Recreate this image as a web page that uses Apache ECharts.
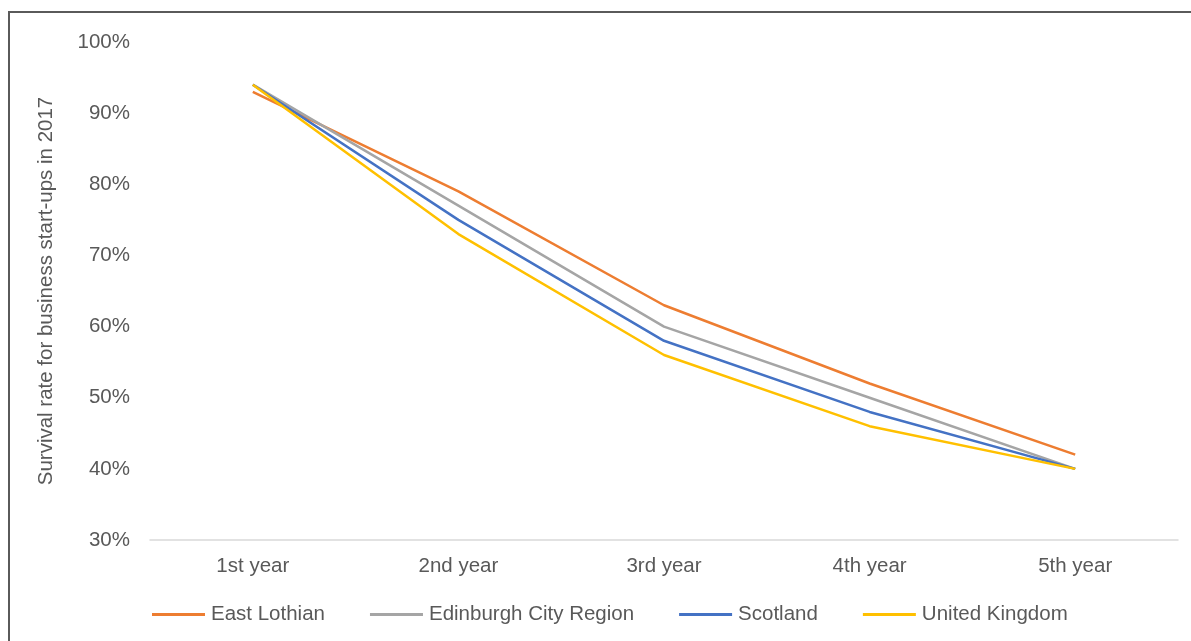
<!DOCTYPE html>
<html>
<head>
<meta charset="utf-8">
<script src="https://cdn.jsdelivr.net/npm/echarts@6/dist/echarts.min.js"></script>
<style>
  html, body { margin: 0; padding: 0; background: #fff; overflow: hidden; }
  #frame { position: absolute; left: 8px; top: 11px; width: 1300px; height: 800px;
           border-left: 2px solid #5a5a5a; border-top: 2px solid #5a5a5a; }
  #chart { position: absolute; left: 0; top: 0; width: 1191px; height: 641px; }
</style>
</head>
<body>
<div id="frame"></div>
<div id="chart"></div>
<script>
// Survival rate of 2017 business start-ups, by year after start-up
const categories = ['1st year', '2nd year', '3rd year', '4th year', '5th year'];
const eastLothian = [93, 79, 63, 52, 42];
const edinburghCityRegion = [94, 77, 60, 50, 40];
const scotland = [94, 75, 58, 48, 40];
const unitedKingdom = [94, 73, 56, 46, 40];
const yTicks = [30, 40, 50, 60, 70, 80, 90, 100];

const textColor = '#595959';
const font = 'Liberation Sans, Arial, sans-serif';
const fontSize = 20.5;

function line(name, data, color) {
  return {
    name, type: 'line', data,
    symbol: 'none',
    lineStyle: { color, width: 2.5 },
    itemStyle: { color },
    emphasis: { disabled: true }
  };
}

const chart = echarts.init(document.getElementById('chart'));
chart.setOption({
  animation: false,
  backgroundColor: 'transparent',
  grid: { left: 150, right: 13, top: 42, bottom: 101 },
  legend: {
    left: 147, top: 599,
    itemWidth: 53, itemHeight: 3, itemGap: 45,
    icon: 'rect',
    textStyle: { color: textColor, fontSize, fontFamily: font, padding: [0, 0, 0, 1] },
    data: ['East Lothian', 'Edinburgh City Region', 'Scotland', 'United Kingdom']
  },
  xAxis: {
    type: 'category', data: categories, boundaryGap: true,
    axisLine: { lineStyle: { color: '#d9d9d9', width: 1.5 } },
    axisTick: { show: false },
    axisLabel: { color: textColor, fontSize, fontFamily: font, margin: 16 }
  },
  yAxis: {
    type: 'value', min: yTicks[0], max: yTicks[yTicks.length - 1], interval: 10,
    name: 'Survival rate for business start-ups in 2017',
    nameLocation: 'middle', nameGap: 93, nameRotate: 90,
    nameTextStyle: { color: textColor, fontSize, fontFamily: font },
    axisLine: { show: false },
    axisTick: { show: false },
    splitLine: { show: false },
    axisLabel: { color: textColor, fontSize, fontFamily: font, margin: 20,
                 formatter: v => v + '%' }
  },
  series: [
    line('East Lothian', eastLothian, '#ED7D31'),
    line('Edinburgh City Region', edinburghCityRegion, '#A5A5A5'),
    line('Scotland', scotland, '#4472C4'),
    line('United Kingdom', unitedKingdom, '#FFC000')
  ]
});
</script>
</body>
</html>
